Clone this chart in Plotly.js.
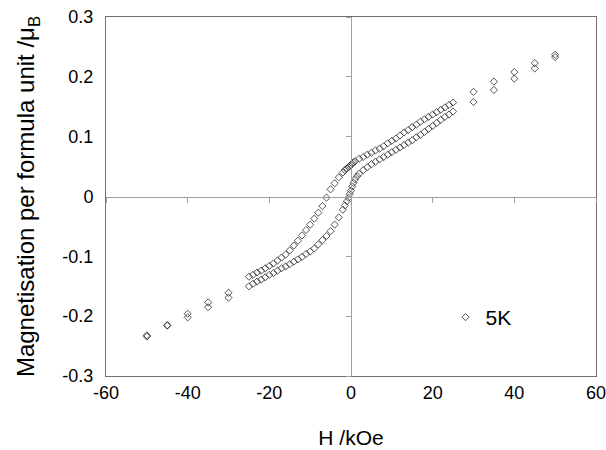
<!DOCTYPE html>
<html>
<head>
<meta charset="utf-8">
<script src="https://cdn.plot.ly/plotly-3.0.1.min.js"></script>
<style>html,body{margin:0;padding:0;background:#fff;}#chart{width:606px;height:450px;}</style>
</head>
<body>
<div id="chart"></div>
<script>
// Descending branch (upper curve), H in kOe, M in muB per formula unit
const H_desc = [50, 45, 40, 35, 30, 25, 24, 23, 22, 21, 20, 19, 18, 17, 16, 15, 14, 13, 12, 11, 10, 9, 8, 7, 6, 5, 4, 3, 2, 1, 0.6, 0.3, 0, -0.3, -0.6, -1, -1.5, -2, -3, -4, -5, -6, -7, -8, -9, -10, -11, -12, -13, -14, -15, -16, -17, -18, -19, -20, -21, -22, -23, -24, -25, -30, -35, -40, -45, -50];
const M_desc = [0.237, 0.223, 0.208, 0.192, 0.175, 0.157, 0.153, 0.149, 0.145, 0.141, 0.137, 0.133, 0.129, 0.125, 0.120, 0.116, 0.111, 0.107, 0.102, 0.097, 0.093, 0.089, 0.084, 0.080, 0.077, 0.073, 0.070, 0.066, 0.063, 0.059, 0.057, 0.055, 0.053, 0.051, 0.049, 0.047, 0.044, 0.040, 0.032, 0.022, 0.012, -0.002, -0.016, -0.027, -0.037, -0.047, -0.056, -0.065, -0.074, -0.082, -0.090, -0.097, -0.102, -0.107, -0.112, -0.116, -0.120, -0.124, -0.127, -0.131, -0.134, -0.161, -0.177, -0.196, -0.215, -0.232];
// Ascending branch (lower curve)
const H_asc = [-50, -45, -40, -35, -30, -25, -24, -23, -22, -21, -20, -19, -18, -17, -16, -15, -14, -13, -12, -11, -10, -9, -8, -7, -6, -5, -4, -3, -2, -1.5, -1, -0.6, -0.3, 0, 0.3, 0.6, 1, 1.5, 2, 3, 4, 5, 6, 7, 8, 9, 10, 11, 12, 13, 14, 15, 16, 17, 18, 19, 20, 21, 22, 23, 24, 25, 30, 35, 40, 45, 50];
const M_asc = [-0.234, -0.216, -0.202, -0.185, -0.169, -0.150, -0.146, -0.142, -0.139, -0.135, -0.131, -0.128, -0.124, -0.120, -0.117, -0.113, -0.109, -0.105, -0.101, -0.096, -0.092, -0.087, -0.080, -0.073, -0.066, -0.058, -0.047, -0.035, -0.022, -0.015, -0.008, -0.002, 0.004, 0.010, 0.017, 0.023, 0.029, 0.034, 0.038, 0.044, 0.049, 0.054, 0.058, 0.062, 0.066, 0.070, 0.074, 0.078, 0.082, 0.086, 0.090, 0.094, 0.099, 0.103, 0.108, 0.113, 0.118, 0.123, 0.128, 0.133, 0.137, 0.142, 0.158, 0.178, 0.197, 0.214, 0.233];

const seriesName = '5K';
const xTickVals = [-60, -40, -20, 0, 20, 40, 60];
const xTickText = ['-60', '-40', '-20', '0', '20', '40', '60'];
const yTickVals = [-0.3, -0.2, -0.1, 0, 0.1, 0.2, 0.3];
const yTickText = ['-0.3', '-0.2', '-0.1', '0', '0.1', '0.2', '0.3'];
const xTitle = 'H /kOe';
const yTitle = 'Magnetisation per formula unit /μ<sub>B</sub>';

const FONT = 'Liberation Sans, Arial, sans-serif';

const traces = [
  {
    x: H_desc.concat(H_asc),
    y: M_desc.concat(M_asc),
    type: 'scatter',
    mode: 'markers',
    name: seriesName,
    marker: {symbol: 'diamond-open', size: 5.5, color: 'rgba(40,40,40,0.78)', line: {width: 1, color: 'rgba(40,40,40,0.78)'}},
    hoverinfo: 'skip'
  },
  {
    x: [null], y: [null], xaxis: 'x2', yaxis: 'y2', type: 'scatter', mode: 'markers',
    showlegend: false, hoverinfo: 'skip'
  }
];

const layout = {
  width: 606, height: 450,
  margin: {l: 106, r: 10, t: 17, b: 74},
  paper_bgcolor: '#ffffff', plot_bgcolor: '#ffffff',
  font: {family: FONT, color: '#000'},
  showlegend: true,
  legend: {x: 0.693, y: 0.163, xanchor: 'left', yanchor: 'middle', bgcolor: 'rgba(0,0,0,0)',
           font: {family: FONT, size: 21, color: '#000'}},
  xaxis: {
    range: [-60, 60], tickmode: 'array', tickvals: xTickVals, ticktext: xTickText,
    showline: true, mirror: true, linecolor: '#6f6f6f', linewidth: 1,
    ticks: '', showgrid: false, zeroline: false, ticklabeloverflow: 'allow',
    tickfont: {family: FONT, size: 18, color: '#000'},
    title: {text: xTitle, font: {family: FONT, size: 21, color: '#000'}, standoff: 28}
  },
  yaxis: {
    range: [-0.3, 0.3], tickmode: 'array', tickvals: yTickVals, ticktext: yTickText,
    showline: true, mirror: true, linecolor: '#6f6f6f', linewidth: 1,
    ticks: '', showgrid: false, zeroline: false, ticklabelstandoff: 8, ticklabeloverflow: 'allow',
    tickfont: {family: FONT, size: 18, color: '#000'},
    title: {text: yTitle, font: {family: FONT, size: 24, color: '#000'}, standoff: 20}
  },
  xaxis2: {
    overlaying: 'x', anchor: 'free', position: 0.5, side: 'bottom',
    range: [-60, 60], tickmode: 'array', tickvals: xTickVals,
    showticklabels: false, ticks: 'outside', ticklen: 5, tickcolor: '#a0a0a0', tickwidth: 1,
    showline: true, linecolor: '#a0a0a0', linewidth: 1, showgrid: false, zeroline: false
  },
  yaxis2: {
    overlaying: 'y', anchor: 'free', position: 0.5, side: 'left',
    range: [-0.3, 0.3], tickmode: 'array', tickvals: yTickVals,
    showticklabels: false, ticks: 'outside', ticklen: 5, tickcolor: '#a0a0a0', tickwidth: 1,
    showline: true, linecolor: '#a0a0a0', linewidth: 1, showgrid: false, zeroline: false
  }
};

Plotly.newPlot('chart', traces, layout, {displayModeBar: false, staticPlot: true});
</script>
</body>
</html>
